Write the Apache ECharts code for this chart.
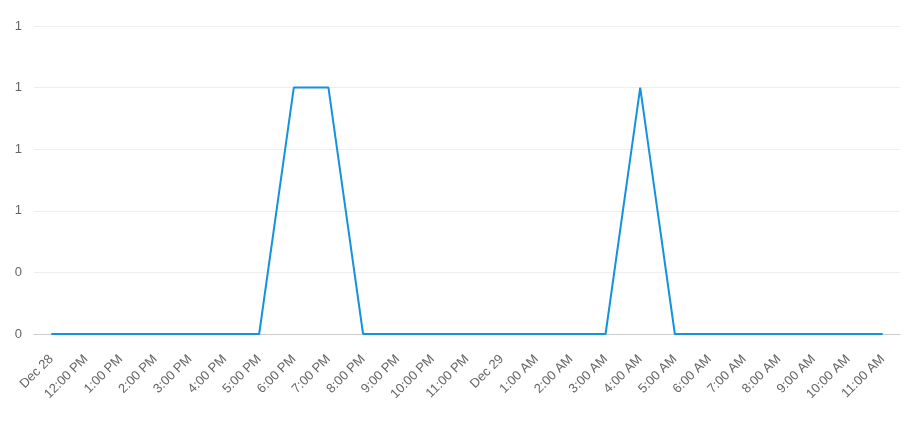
<!DOCTYPE html>
<html>
<head>
<meta charset="utf-8">
<script src="https://cdn.jsdelivr.net/npm/echarts@6/dist/echarts.min.js"></script>
<style>html,body{margin:0;padding:0;background:#fff;}#c{width:907px;height:422px;}</style>
</head>
<body>
<div id="c"></div>
<script>
var categories = ["Dec 28","12:00 PM","1:00 PM","2:00 PM","3:00 PM","4:00 PM","5:00 PM","6:00 PM","7:00 PM","8:00 PM","9:00 PM","10:00 PM","11:00 PM","Dec 29","1:00 AM","2:00 AM","3:00 AM","4:00 AM","5:00 AM","6:00 AM","7:00 AM","8:00 AM","9:00 AM","10:00 AM","11:00 AM"];
var values = [0,0,0,0,0,0,0,1,1,0,0,0,0,0,0,0,0,1,0,0,0,0,0,0,0];
var yMin = 0, yMax = 1.25, yInterval = 0.25;

var chart = echarts.init(document.getElementById('c'), null, {renderer:'canvas'});
chart.setOption({
  animation:false,
  grid:{left:34,right:7,top:26,bottom:88,containLabel:false},
  xAxis:{
    type:'category',
    data:categories,
    boundaryGap:true,
    axisLine:{lineStyle:{color:'#ccc'}},
    axisTick:{alignWithLabel:true,lineStyle:{color:'#ccc'}},
    axisLabel:{rotate:45,color:'#666',fontSize:13,fontFamily:'Liberation Sans',interval:0,margin:23}
  },
  yAxis:{
    type:'value',min:yMin,max:yMax,interval:yInterval,
    axisLine:{show:false},axisTick:{show:false},
    splitLine:{lineStyle:{color:'#eee'}},
    axisLabel:{color:'#666',fontSize:13,fontFamily:'Liberation Sans',margin:12,formatter:function(v){return String(Math.round(v));}}
  },
  series:[{
    type:'line',data:values,showSymbol:false,symbol:'none',
    lineStyle:{color:'#1592dd',width:2},itemStyle:{color:'#1592dd'}
  }]
});
</script>
</body>
</html>
